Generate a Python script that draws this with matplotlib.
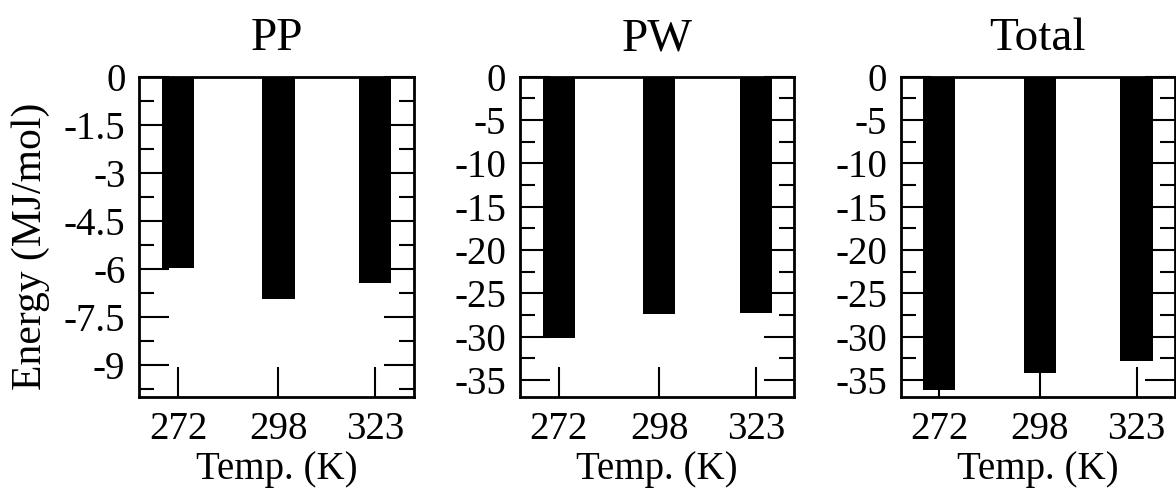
import matplotlib
matplotlib.use('Agg')
import matplotlib.pyplot as plt
from matplotlib.ticker import MultipleLocator, FormatStrFormatter

plt.rcParams['font.family'] = ['Liberation Serif', 'DejaVu Serif']
plt.rcParams['axes.unicode_minus'] = False
plt.rcParams['font.size'] = 28

temps = [272, 298, 323]
pp = [-5.98, -6.94, -6.45]
pw = [-30.2, -27.4, -27.3]
total = [-36.2, -34.2, -32.8]

titles = ['PP', 'PW', 'Total']
series = [pp, pw, total]
ylims = [(-10, 0), (-37, 0), (-37, 0)]
major_steps = [1.5, 5, 5]
lefts = [0.1185, 0.4422, 0.766]

fig = plt.figure(figsize=(11.76, 4.9), dpi=100)

for i in range(3):
    ax = fig.add_axes([lefts[i], 0.1892, 0.2333, 0.6543])
    ax.bar(temps, series[i], width=8.3, color='black', zorder=2)
    ax.set_xlim(262, 333)
    ax.set_ylim(*ylims[i])
    ax.set_xticks(temps)
    ax.yaxis.set_major_locator(MultipleLocator(major_steps[i]))
    ax.yaxis.set_minor_locator(MultipleLocator(major_steps[i] / 2))
    ax.yaxis.set_major_formatter(FormatStrFormatter('%g'))
    ax.tick_params(axis='y', which='both', direction='in', left=True, right=True, width=1.5, pad=10)
    ax.tick_params(axis='y', which='major', length=21.5)
    ax.tick_params(axis='y', which='minor', length=10.8)
    ax.tick_params(axis='x', which='major', direction='in', bottom=True, top=False,
                   length=21.5, width=1.5, pad=10)
    for s in ax.spines.values():
        s.set_linewidth(2)
        s.set_zorder(3)
    ax.set_title(titles[i], pad=19, fontsize=34)
    ax.set_xlabel('Temp. (K)', labelpad=2)
    if i == 0:
        ax.set_ylabel('Energy (MJ/mol)', fontsize=30)
        ax.yaxis.set_label_coords(-0.327, 0.47)

fig.savefig('out.png', dpi=100)
